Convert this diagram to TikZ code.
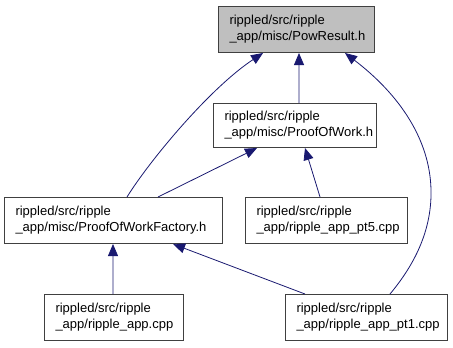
\documentclass[tikz,border=0pt]{standalone}
\usepackage{fontspec}
\setmainfont{Liberation Sans}
\usetikzlibrary{arrows.meta}
\definecolor{edgeblue}{RGB}{25,25,112}
\definecolor{boxgray}{RGB}{191,191,191}
\definecolor{framegray}{RGB}{64,64,64}

\begin{document}
\begin{tikzpicture}[x=1bp,y=-1bp,
  filebox/.style={draw=framegray, line width=1bp, fill=white, inner xsep=11bp,
    inner ysep=0pt, align=left, anchor=north west, minimum height=46bp,
    font=\fontsize{13bp}{16bp}\selectfont},
  current/.style={filebox, fill=boxgray},
  dep/.style={draw=edgeblue, line width=0.8bp,
    {Triangle[length=12bp,width=10bp]}-}
]
\useasboundingbox (0,0) rectangle (453,347);

% include graph nodes
\node[current, text width=134bp] (pow) at (218,6)
  {rippled/src/ripple\\\_app/misc/PowResult.h};
\node[filebox, text width=141bp, minimum height=44bp] (pwork) at (213,103)
  {rippled/src/ripple\\\_app/misc/ProofOfWork.h};
\node[filebox, text width=196bp] (fac) at (4,197)
  {rippled/src/ripple\\\_app/misc/ProofOfWorkFactory.h};
\node[filebox, text width=140bp] (pt5) at (245,197)
  {rippled/src/ripple\\\_app/ripple\_app\_pt5.cpp};
\node[filebox, text width=117bp] (app) at (44,294)
  {rippled/src/ripple\\\_app/ripple\_app.cpp};
\node[filebox, text width=140bp] (pt1) at (285,294)
  {rippled/src/ripple\\\_app/ripple\_app\_pt1.cpp};

% dependency edges, arrowhead on the included file
\draw[dep] ([xshift=81bp]pow.south west) -- ([xshift=86bp]pwork.north west);
\draw[dep] ([xshift=45bp]pow.south west)
  .. controls (210,88) and (150,160) .. ([xshift=123bp]fac.north west);
\draw[dep] ([xshift=127bp]pow.south west)
  .. controls (400,95) and (430,140) .. (431,190)
  .. controls (432,235) and (410,270) .. ([xshift=105bp]pt1.north west);
\draw[dep] ([xshift=44bp]pwork.south west) -- ([xshift=154bp]fac.north west);
\draw[dep] ([xshift=92bp]pwork.south west) -- ([xshift=75bp]pt5.north west);
\draw[dep] ([xshift=109bp]fac.south west) -- ([xshift=69bp]app.north west);
\draw[dep] ([xshift=169bp]fac.south west) -- ([xshift=20bp]pt1.north west);
\end{tikzpicture}
\end{document}
